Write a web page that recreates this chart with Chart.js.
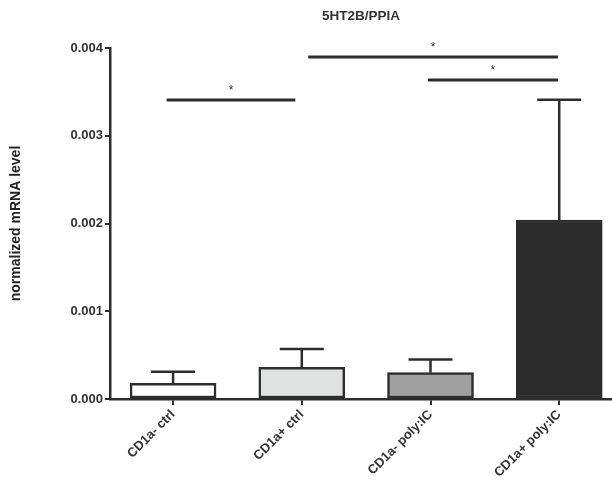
<!DOCTYPE html>
<html>
<head>
<meta charset="utf-8">
<script src="https://cdn.jsdelivr.net/npm/chart.js@4"></script>
<style>
  html, body { margin: 0; padding: 0; background: #fff; }
  #wrap { width: 612px; height: 489px; }
</style>
</head>
<body>
<div id="wrap"><canvas id="chart"></canvas></div>
<script>
(function () {
    "use strict";

    const categories = ["CD1a- ctrl", "CD1a+ ctrl", "CD1a- poly:IC", "CD1a+ poly:IC"];
    const means = [0.00018, 0.00036, 0.00030, 0.00204];
    const errTop = [0.00031, 0.00057, 0.00045, 0.00341];
    const barColors = ["#ffffff", "#e0e2e1", "#a0a0a0", "#2a2a2a"];
    const yTicks = [0, 0.001, 0.002, 0.003, 0.004];

    // significance brackets: [from, to] in category units, height, label
    const sigFrom = [-0.05, 1.05, 1.98];
    const sigTo = [0.95, 2.99, 2.99];
    const sigY = [0.003407, 0.003897, 0.003635];
    const sigLabel = ["*", "*", "*"];

    const ink = "#2d2d2d";
    const font = "'Liberation Sans', Arial, sans-serif";

    const extras = {
        id: "extras",
        afterDatasetsDraw(chart) {
            const { ctx, scales: { x, y }, chartArea } = chart;
            ctx.save();
            ctx.strokeStyle = ink;
            ctx.lineWidth = 2.5;
            // error bars (upper only)
            means.forEach((m, i) => {
                const xc = x.getPixelForValue(i);
                const y0 = y.getPixelForValue(m);
                const y1 = y.getPixelForValue(errTop[i]);
                ctx.beginPath();
                ctx.moveTo(xc, y0);
                ctx.lineTo(xc, y1);
                ctx.moveTo(xc - 22, y1);
                ctx.lineTo(xc + 22, y1);
                ctx.stroke();
            });
            // significance lines
            ctx.lineWidth = 3;
            ctx.fillStyle = ink;
            ctx.font = "12px " + font;
            ctx.textAlign = "center";
            ctx.textBaseline = "middle";
            sigFrom.forEach((f, i) => {
                const xa = x.getPixelForValue(f);
                const xb = x.getPixelForValue(sigTo[i]);
                const yy = y.getPixelForValue(sigY[i]);
                ctx.beginPath();
                ctx.moveTo(xa, yy);
                ctx.lineTo(xb, yy);
                ctx.stroke();
                ctx.fillText(sigLabel[i], (xa + xb) / 2, yy - 9);
            });
            // title over plot area
            ctx.font = "bold 13.5px " + font;
            ctx.fillStyle = "#333";
            ctx.fillText("5HT2B/PPIA", (chartArea.left + chartArea.right) / 2, 16);
            ctx.restore();
        },
    };

    new Chart(document.getElementById("chart"), {
        type: "bar",
        data: {
            datasets: [
                {
                    data: means.map((v, i) => ({ x: i, y: v })),
                    backgroundColor: barColors,
                    borderColor: ink,
                    borderWidth: 2.5,
                    borderSkipped: false,
                    barThickness: 86,
                },
            ],
        },
        options: {
            responsive: true,
            maintainAspectRatio: false,
            animation: false,
            layout: { padding: { top: 48, right: 0, left: 0, bottom: 0 } },
            plugins: {
                legend: { display: false },
                tooltip: { enabled: false },
            },
            scales: {
                x: {
                    type: "linear",
                    offset: false,
                    min: -0.49,
                    max: 3.41,
                    afterBuildTicks: (scale) => {
                        scale.ticks = categories.map((c, i) => ({ value: i }));
                    },
                    afterFit: (scale) => {
                        scale.height = 90;
                    },
                    ticks: {
                        minRotation: 45,
                        maxRotation: 45,
                        color: "#333",
                        padding: 2,
                        font: { family: font, size: 13, weight: "bold" },
                        callback: (v) => categories[v],
                    },
                    grid: {
                        offset: false,
                        drawOnChartArea: false,
                        drawTicks: true,
                        tickLength: 6,
                        color: ink,
                        lineWidth: 2,
                    },
                    border: { display: true, color: ink, width: 2.5 },
                },
                y: {
                    min: 0,
                    max: 0.004,
                    afterBuildTicks: (scale) => {
                        scale.ticks = yTicks.map((v) => ({ value: v }));
                    },
                    afterFit: (scale) => {
                        scale.width = 110;
                    },
                    ticks: {
                        color: "#333",
                        padding: 2,
                        font: { family: font, size: 13, weight: "bold" },
                        callback: (v) => v.toFixed(3),
                    },
                    grid: {
                        drawOnChartArea: false,
                        drawTicks: true,
                        tickLength: 5,
                        color: ink,
                        lineWidth: 2,
                    },
                    border: { display: true, color: ink, width: 2.5 },
                    title: {
                        display: true,
                        text: "normalized mRNA level",
                        color: "#222",
                        padding: { top: 8, bottom: 0 },
                        font: { family: font, size: 14, weight: "bold" },
                    },
                },
            },
        },
        plugins: [extras],
    });
})();
</script>
</body>
</html>
